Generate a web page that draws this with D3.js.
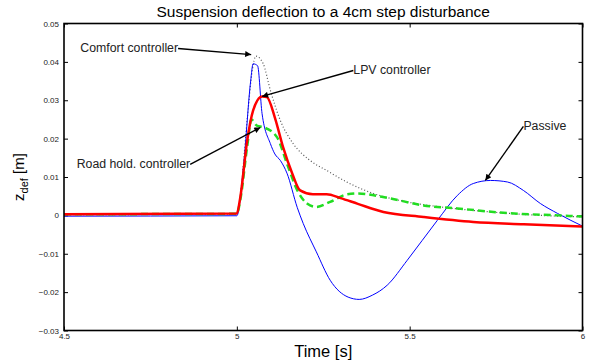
<!DOCTYPE html>
<html>
<head>
<meta charset="utf-8">
<script src="https://cdn.jsdelivr.net/npm/d3@7"></script>
<style>
  body { margin: 0; background: #fff; }
  text { font-family: "Liberation Sans", Arial, sans-serif; }
</style>
</head>
<body>
<div id="container"></div>
<script>
// data: [time s, deflection m]
const passive = [
  [4.5, -0.0002], [5.0, -0.0001], [5.02, 0.0135], [5.04, 0.035], [5.047, 0.0395],
  [5.06, 0.039], [5.073, 0.0265], [5.097, 0.0187], [5.11, 0.016], [5.126, 0.0143],
  [5.145, 0.011], [5.175, 0.002], [5.192, -0.0021], [5.23, -0.0095], [5.27, -0.0169],
  [5.322, -0.0213], [5.354, -0.0219], [5.392, -0.0208], [5.435, -0.0182], [5.493, -0.0117],
  [5.58, -0.0013], [5.638, 0.0052], [5.684, 0.0083], [5.734, 0.0091], [5.783, 0.0087],
  [5.829, 0.0065], [5.878, 0.0031], [5.928, 0.0005], [6.0, -0.0028]
];
const lpv = [
  [4.5, 0.0003], [5.0, 0.0005], [5.01, 0.0047], [5.03, 0.0195], [5.047, 0.0273],
  [5.073, 0.031], [5.087, 0.0308], [5.11, 0.0255], [5.134, 0.0177], [5.16, 0.011],
  [5.183, 0.0065], [5.22, 0.0055], [5.26, 0.0055], [5.3, 0.0045], [5.35, 0.003],
  [5.424, 0.0009], [5.54, -0.0004], [5.684, -0.0017], [5.83, -0.0023], [6.0, -0.0029]
];
const roadHold = [
  [4.5, 0.0003], [5.0, 0.0004], [5.01, 0.004], [5.03, 0.018], [5.042, 0.025],
  [5.058, 0.0234], [5.076, 0.023], [5.116, 0.0204], [5.145, 0.0135], [5.175, 0.0065],
  [5.203, 0.0031], [5.23, 0.0022], [5.27, 0.0035], [5.32, 0.0055], [5.35, 0.0057],
  [5.444, 0.0044], [5.54, 0.0026], [5.638, 0.0018], [5.783, 0.0006], [5.928, 0.0],
  [6.0, -0.0003]
];
const comfort = [
  [4.5, 0.0002], [5.0, 0.0003], [5.01, 0.005], [5.03, 0.025], [5.045, 0.038],
  [5.055, 0.0415], [5.076, 0.0396], [5.097, 0.0326], [5.126, 0.0247], [5.163, 0.0187],
  [5.212, 0.0143], [5.26, 0.0117], [5.32, 0.0086], [5.395, 0.0057], [5.493, 0.0035],
  [5.59, 0.0022], [5.734, 0.0009], [5.878, 0.0], [6.0, -0.0004]
];

const xTicks = [4.5, 5, 5.5, 6];
const yTicks = [-0.03, -0.02, -0.01, 0, 0.01, 0.02, 0.03, 0.04, 0.05];

// annotations: label, anchor side, text point and arrow tip in data units
const notes = [
  { label: 'Comfort controller', anchor: 'end', from: [4.83, 0.0435], to: [5.0415, 0.0419] },
  { label: 'LPV controller', anchor: 'start', from: [5.337, 0.03776], to: [5.073, 0.031] },
  { label: 'Road hold. controller', anchor: 'end', from: [4.865, 0.0133], to: [5.068, 0.0229] },
  { label: 'Passive', anchor: 'start', from: [5.829, 0.0232], to: [5.719, 0.0091] }
];

const svgWidth = 589,
  svgHeight = 362,
  margin = { top: 23.5, right: 6.5, bottom: 31.5, left: 64 };

const svg = d3.select('#container')
  .append('svg')
  .attr('width', svgWidth)
  .attr('height', svgHeight);

const xScale = d3.scaleLinear()
  .domain([4.5, 6])
  .range([margin.left, svgWidth - margin.right]);

const yScale = d3.scaleLinear()
  .domain([-0.03, 0.05])
  .range([svgHeight - margin.bottom, margin.top]);

const x0 = xScale.range()[0], x1 = xScale.range()[1];
const y0 = yScale.range()[0], y1 = yScale.range()[1];

// inward ticks on all four sides
const tick = 4;
svg.append('g').call(d3.axisBottom(xScale).tickValues(xTicks).tickSize(-tick).tickPadding(3).tickFormat(d3.format('')))
  .attr('transform', `translate(0,${y0})`)
  .call(g => g.select('.domain').remove())
  .call(g => g.selectAll('text').attr('font-size', 8).attr('fill', '#222'));
svg.append('g').call(d3.axisTop(xScale).tickValues(xTicks).tickSize(-tick).tickFormat(''))
  .attr('transform', `translate(0,${y1})`)
  .call(g => g.select('.domain').remove());
svg.append('g').call(d3.axisLeft(yScale).tickValues(yTicks).tickSize(-tick).tickPadding(5).tickFormat(d => d === 0 ? '0' : d3.format('.2f')(d)))
  .attr('transform', `translate(${x0},0)`)
  .call(g => g.select('.domain').remove())
  .call(g => g.selectAll('text').attr('font-size', 8).attr('fill', '#222'));
svg.append('g').call(d3.axisRight(yScale).tickValues(yTicks).tickSize(-tick).tickFormat(''))
  .attr('transform', `translate(${x1},0)`)
  .call(g => g.select('.domain').remove());

svg.append('defs').append('clipPath').attr('id', 'clip')
  .append('rect').attr('x', x0).attr('y', y1).attr('width', x1 - x0).attr('height', y0 - y1);

const line = d3.line()
  .x(d => xScale(d[0]))
  .y(d => yScale(d[1]))
  .curve(d3.curveMonotoneX);

const plot = svg.append('g').attr('clip-path', 'url(#clip)');

plot.append('path').datum(comfort)
  .attr('d', line).attr('fill', 'none')
  .attr('stroke', '#555').attr('stroke-width', 1.2).attr('stroke-dasharray', '1,2.2');
plot.append('path').datum(passive)
  .attr('d', line).attr('fill', 'none')
  .attr('stroke', '#0000ff').attr('stroke-width', 1);
plot.append('path').datum(roadHold)
  .attr('d', line).attr('fill', 'none')
  .attr('stroke', '#22dd22').attr('stroke-width', 2.5).attr('stroke-dasharray', '7,4');
plot.append('path').datum(lpv)
  .attr('d', line).attr('fill', 'none')
  .attr('stroke', '#ff0000').attr('stroke-width', 2.5);

// frame
svg.append('rect')
  .attr('x', x0).attr('y', y1).attr('width', x1 - x0).attr('height', y0 - y1)
  .attr('fill', 'none').attr('stroke', '#000').attr('stroke-width', 1.6);

// arrows
svg.select('defs').append('marker')
  .attr('id', 'head')
  .attr('viewBox', '0 0 10 10')
  .attr('refX', 10).attr('refY', 5)
  .attr('markerWidth', 8).attr('markerHeight', 6)
  .attr('markerUnits', 'userSpaceOnUse')
  .attr('orient', 'auto')
  .append('path').attr('d', 'M0,0L10,5L0,10z').attr('fill', '#000');

const ann = svg.append('g');
ann.selectAll('line').data(notes).enter().append('line')
  .attr('x1', d => xScale(d.from[0]))
  .attr('y1', d => yScale(d.from[1]))
  .attr('x2', d => xScale(d.to[0]))
  .attr('y2', d => yScale(d.to[1]))
  .attr('stroke', '#000').attr('stroke-width', 1.4)
  .attr('marker-end', 'url(#head)');
ann.selectAll('text').data(notes).enter().append('text')
  .attr('x', d => xScale(d.from[0]))
  .attr('y', d => yScale(d.from[1]) + 4)
  .attr('text-anchor', d => d.anchor)
  .attr('font-size', 12.3)
  .attr('fill', '#222')
  .text(d => d.label);

// titles
svg.append('text')
  .attr('x', (x0 + x1) / 2).attr('y', 17)
  .attr('text-anchor', 'middle').attr('font-size', 15.5)
  .text('Suspension deflection to a 4cm step disturbance');

svg.append('text')
  .attr('x', (x0 + x1) / 2).attr('y', 357)
  .attr('text-anchor', 'middle').attr('font-size', 16.5)
  .text('Time [s]');

const yl = svg.append('text')
  .attr('transform', `translate(24,${(y0 + y1) / 2}) rotate(-90)`)
  .attr('text-anchor', 'middle').attr('font-size', 15);
yl.append('tspan').text('z');
yl.append('tspan').attr('font-size', 11).attr('dy', 4).text('def');
yl.append('tspan').attr('dy', -4).text(' [m]');
</script>
</body>
</html>
